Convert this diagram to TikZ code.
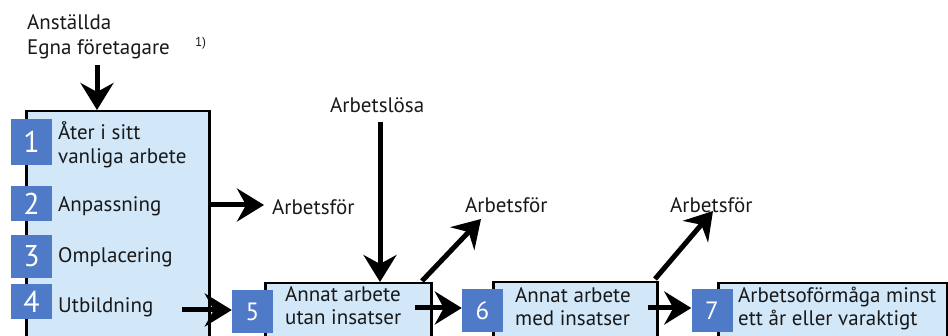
\documentclass[tikz,border=0pt]{standalone}
\usepackage{fontspec}
\setmainfont{PT Sans}
\usetikzlibrary{arrows.meta,calc}
\definecolor{sqblue}{RGB}{79,122,200}
\definecolor{boxfill}{RGB}{210,231,248}
\begin{document}
\begin{tikzpicture}[x=1pt,y=-1pt,
  txt/.style={font=\fontsize{21}{24}\selectfont, inner sep=0pt, anchor=base west, text=black!90},
  bigbox/.style={draw=black, line width=2.5pt, fill=boxfill, anchor=north west, inner sep=0pt},
  numsq/.style={fill=sqblue, text=white, inner sep=0pt, minimum width=41pt, font=\fontsize{30}{30}\selectfont},
  numsqs/.style={numsq, minimum height=43pt, font=\fontsize{25}{25}\selectfont},
  arr/.style={line width=5pt, -{Stealth[length=27pt,width=33pt,inset=9pt]}},
  ]
\clip (0,0) rectangle (948,336);
\fill[white] (0,0) rectangle (948,336);

% top labels
\node[txt] (ans) at (27,30) {Anställda};
\node[txt] (egna) at (27,55) {Egna företagare};
\node[txt, font=\fontsize{13}{13}\selectfont] (fn) at (195,47) {1)};

% box 1
\node[bigbox, minimum width=183pt, minimum height=240pt] (b1) at (25,110) {};
\node[numsq, minimum height=46pt] (s1) at (31.5,142) {1};
\node[numsq, minimum height=35pt] (s2) at (31.5,203.5) {2};
\node[numsq, minimum height=43pt] (s3) at (31.5,256.5) {3};
\node[numsq, minimum height=35pt] (s4) at (31.5,301.5) {4};
\node[txt] (t1a) at (58,140) {Åter i sitt};
\node[txt] (t1b) at (58,164) {vanliga arbete};
\node[txt] (t2) at (58,212) {Anpassning};
\node[txt] (t3) at (58,263) {Omplacering};
\node[txt] (t4) at (58,313) {Utbildning};

% other labels
\node[txt] (af1) at (272,215) {Arbetsför};
\node[txt] (af2) at (465,213) {Arbetsför};
\node[txt] (af3) at (670,213) {Arbetsför};
\node[txt] (al) at (330,113) {Arbetslösa};

% box 5
\node[bigbox, minimum width=166pt, minimum height=70pt] (b5) at (264,282) {};
\node[numsqs] (s5) at (252.5,311.5) {5};
\node[txt] (t5a) at (285,302) {Annat arbete};
\node[txt] (t5b) at (285,325) {utan insatser};

% box 6
\node[bigbox, minimum width=164pt, minimum height=70pt] (b6) at (492,281) {};
\node[numsqs] (s6) at (482.5,311) {6};
\node[txt] (t6a) at (515,303) {Annat arbete};
\node[txt] (t6b) at (515,326) {med insatser};

% box 7
\node[bigbox, minimum width=229pt, minimum height=70pt] (b7) at (717,282) {};
\node[numsqs] (s7) at (712,311) {7};
\node[txt] (t7a) at (738,303) {Arbetsoförmåga minst};
\node[txt] (t7b) at (738,326) {ett år eller varaktigt};

% connector ends
\coordinate (topin) at (97,65);
\coordinate (alx) at (380,122);
\coordinate (u4) at (182,310);
\coordinate (u5) at (415,308);
\coordinate (u6) at (648,308);
\coordinate (d5s) at (422,281);
\coordinate (d5e) at (481,219);
\coordinate (d6s) at (655,279);
\coordinate (d6e) at (713,211);
\coordinate (af1tip) at (264,205);

% arrows
\draw[arr] (topin) -- (topin |- b1.north);
\draw[arr] (b1.east |- af1tip) -- (af1tip);
\draw[arr] (alx) -- (alx |- b5.north);
\draw[arr] (u4) -- (s5.west |- u4);
\draw[arr] (u5) -- (s6.west |- u5);
\draw[arr] (u6) -- (s7.west |- u6);
\draw[arr] (d5s) -- (d5e);
\draw[arr] (d6s) -- (d6e);
\end{tikzpicture}
\end{document}
